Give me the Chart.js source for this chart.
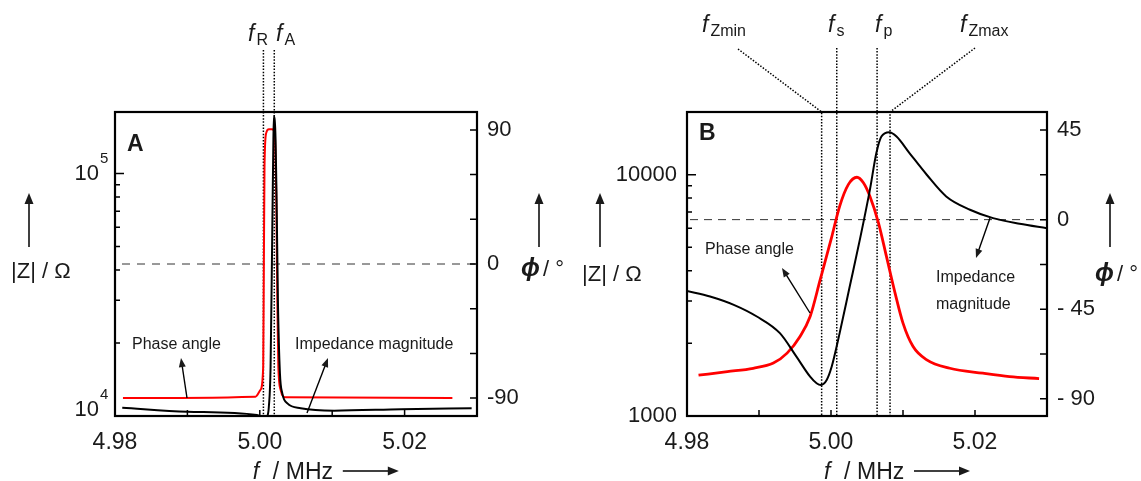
<!DOCTYPE html>
<html>
<head>
<meta charset="utf-8">
<script src="https://cdn.jsdelivr.net/npm/chart.js@4.4.1/dist/chart.umd.min.js"></script>
<style>
  html, body { margin: 0; padding: 0; background: #fff; }
  #wrap { position: relative; width: 1141px; height: 481px; overflow: hidden; }
  #chartA { position: absolute; left: 0; top: 0; }
  #chartB { position: absolute; left: 580px; top: 0; }
</style>
</head>
<body>
<div id="wrap">
  <canvas id="chartA" width="580" height="481"></canvas>
  <canvas id="chartB" width="561" height="481"></canvas>
</div>
<script>
// ---- panel A : wide sweep ----
const freqA_Z = [4.9810, 4.9900, 4.9996, 5.0004, 5.0008, 5.0010, 5.00125, 5.00149, 5.00172, 5.00186, 5.00194,
  5.00218, 5.00232, 5.00250, 5.00278, 5.00311, 5.00381, 5.00565, 5.01028, 5.01954, 5.02926];
const magA = [10820, 10420, 10100, 9800, 9700, 9900, 10920, 16000, 56900, 125600, 172600,
  138000, 78200, 30100, 15000, 12400, 11270, 10770, 10520, 10670, 10770];

const freqA_P = [4.9811, 4.9994, 5.00009, 5.00047, 5.00056, 5.00065, 5.00089, 5.00125, 5.00172, 5.00204,
  5.00228, 5.00242, 5.00256, 5.00288, 5.00357, 5.0266];
const phaseA = [-90, -89, -84.5, -69, -1.6, 65.6, 88, 90.5, 90.5, 88, 43, -24, -69, -84.5, -89.5, -90];

const markerFreqA = [5.0005, 5.0020];
const markerSubA = ['R', 'A'];

// ---- panel B : zoomed sweep ----
const freqB_Z = [4.9800, 4.9832, 4.9865, 4.9897, 4.9929, 4.9952, 4.9971, 4.9980, 4.9986, 4.9994, 5.0001,
  5.0012, 5.0026, 5.0040, 5.0054, 5.0063, 5.0070, 5.0081, 5.0091, 5.0109, 5.0133, 5.0160, 5.0193,
  5.0225, 5.0262, 5.0300];
const magB = [3300, 3130, 2890, 2585, 2205, 1762, 1456, 1367, 1345, 1410, 1603,
  2205, 3440, 5370, 8660, 12300, 14400, 15000, 14400, 12300, 10000, 8130, 7160,
  6610, 6260, 6000];

const freqB_P = [4.9816, 4.9856, 4.9892, 4.9920, 4.9939, 4.9957, 4.9971, 4.9985, 5.0000, 5.0012, 5.0024,
  5.0036, 5.0045, 5.0054, 5.0066, 5.0077, 5.0089, 5.0100, 5.0114, 5.0133, 5.0165, 5.0211, 5.0248, 5.0289];
const phaseB = [-78.2, -76.4, -74.7, -72.1, -67.1, -58.7, -48.7, -30.2, -10.1, 6.7, 17.6,
  21.3, 18.5, 11.7, -1.7, -18.5, -36.9, -52.0, -63.8, -70.5, -74.7, -77.2, -78.9, -79.9];

const markerFreqB = [4.9987, 5.0008, 5.0064, 5.0082];
const markerSubB = ['Zmin', 's', 'p', 'Zmax'];

// ---- ticks ----
const xTickValues = [4.98, 4.99, 5.00, 5.01, 5.02, 5.03];
const xTickLabels = ['4.98', '5.00', '5.02'];
const zTicksA = [10000, 20000, 30000, 40000, 50000, 60000, 70000, 80000, 90000, 100000];
const zLabelsA = [10000, 100000];
const zTicksB = [1000, 2000, 3000, 4000, 5000, 6000, 7000, 8000, 9000, 10000];
const zLabelsB = [1000, 10000];
const phaseTicksA = [-90, -60, -30, 0, 30, 60, 90];
const phaseLabelsA = [-90, 0, 90];
const phaseTicksB = [-90, -67.5, -45, -22.5, 0, 22.5, 45];
const phaseLabelsB = [-90, -45, 0, 45];

const FONT = '"Liberation Sans", Arial, Helvetica, sans-serif';
const INK = '#1a1a1a';

function arrow(ctx, x1, y1, x2, y2, len, half) {
  const a = Math.atan2(y2 - y1, x2 - x1);
  const c = Math.cos(a), s = Math.sin(a);
  ctx.beginPath();
  ctx.moveTo(x1, y1);
  ctx.lineTo(x2 - c * len * 0.7, y2 - s * len * 0.7);
  ctx.stroke();
  ctx.beginPath();
  ctx.moveTo(x2, y2);
  ctx.lineTo(x2 - c * len + s * half, y2 - s * len - c * half);
  ctx.lineTo(x2 - c * len - s * half, y2 - s * len + c * half);
  ctx.closePath();
  ctx.fill();
}

function fLabel(ctx, x, y, sub, size, subSize, drop) {
  ctx.font = 'italic ' + size + 'px ' + FONT;
  ctx.textAlign = 'left';
  ctx.textBaseline = 'alphabetic';
  ctx.fillText('f', x, y);
  const w = ctx.measureText('f').width;
  ctx.font = subSize + 'px ' + FONT;
  ctx.fillText(sub, x + w + 2, y + drop);
}

function makeDecor(p) {
  return {
    id: 'decor' + p.name,
    beforeDatasetsDraw(chart) {
      const { ctx, chartArea: a, scales } = chart;
      const ox = p.ox;
      ctx.save();
      const y0 = scales.yPh.getPixelForValue(0);
      ctx.strokeStyle = '#333';
      ctx.lineWidth = 1;
      ctx.setLineDash(p.dash);
      ctx.beginPath();
      ctx.moveTo(p.dashFrom - ox, y0);
      ctx.lineTo(a.right, y0);
      ctx.stroke();

      // dotted marker lines
      ctx.setLineDash([1.5, 1.6]);
      ctx.strokeStyle = '#000';
      ctx.lineWidth = 1.5;
      p.markers.forEach((m, i) => {
        const px = scales.x.getPixelForValue(p.markerFreq[i]);
        ctx.beginPath();
        if (m.from) {
          ctx.moveTo(m.from[0] - ox, m.from[1]);
          ctx.lineTo(px, a.top);
        } else {
          ctx.moveTo(px, m.top);
        }
        ctx.lineTo(px, a.bottom);
        ctx.stroke();
      });
      ctx.restore();
    },
    afterDatasetsDraw(chart) {
      const { ctx, chartArea: a, scales } = chart;
      ctx.save();
      ctx.strokeStyle = '#000';
      ctx.lineWidth = 1.5;
      ctx.beginPath();
      xTickValues.forEach(v => {
        const px = scales.x.getPixelForValue(v);
        if (px <= a.left + 2 || px >= a.right - 2) return;
        ctx.moveTo(px, a.bottom);
        ctx.lineTo(px, a.bottom - 6);
      });
      p.zTicks.forEach(v => {
        const py = scales.yZ.getPixelForValue(v);
        if (py <= a.top + 2 || py >= a.bottom - 2) return;
        const len = p.zLabels.includes(v) ? 9 : 5;
        ctx.moveTo(a.left, py);
        ctx.lineTo(a.left + len, py);
      });
      p.phTicks.forEach(v => {
        const py = scales.yPh.getPixelForValue(v);
        if (py <= a.top + 2 || py >= a.bottom - 2) return;
        ctx.moveTo(a.right, py);
        ctx.lineTo(a.right - 7, py);
      });
      ctx.stroke();
      ctx.lineWidth = 2.2;
      ctx.strokeRect(a.left, a.top, a.right - a.left, a.bottom - a.top);
      ctx.restore();
    },
    afterDraw(chart) {
      const { ctx, chartArea: a, scales } = chart;
      const ox = p.ox;
      ctx.save();
      ctx.fillStyle = INK;
      ctx.strokeStyle = '#000';

      // panel letter
      ctx.font = 'bold 23px ' + FONT;
      ctx.textAlign = 'left';
      ctx.textBaseline = 'alphabetic';
      ctx.fillText(p.name, p.letter[0] - ox, p.letter[1]);

      // marker labels
      p.markers.forEach((m, i) => {
        fLabel(ctx, m.lx - ox, p.labelBase, p.markerSub[i], 23, 16, 4);
      });

      // superscript log labels (panel A)
      if (p.supLabels) {
        zLabelsA.forEach(v => {
          const py = scales.yZ.getPixelForValue(v);
          const base = Math.min(py + 6, a.bottom);
          ctx.font = '22px ' + FONT;
          ctx.textAlign = 'right';
          ctx.fillText('10', a.left - 16, base);
          ctx.font = '15px ' + FONT;
          ctx.textAlign = 'left';
          ctx.fillText(String(Math.round(Math.log10(v))), a.left - 15, base - 17);
        });
      }

      // x title
      const fx = scales.x.getPixelForValue(5.0) - 7;
      ctx.textAlign = 'left';
      ctx.font = 'italic 23px ' + FONT;
      ctx.fillText('f', fx, 479);
      ctx.font = '23px ' + FONT;
      ctx.fillText('/', fx + 20, 479);
      ctx.fillText('MHz', fx + 33, 479);
      ctx.lineWidth = 1.5;
      arrow(ctx, fx + 90, 471, fx + 146, 471, 11, 4.5);

      // |Z| title
      ctx.font = '22px ' + FONT;
      ctx.fillText('|Z| / \u03A9', p.zTitle[0] - ox, p.zTitle[1]);
      arrow(ctx, p.zArrowX - ox, 247, p.zArrowX - ox, 193, 11, 4.5);

      // phase title
      ctx.font = 'italic bold 25px ' + FONT;
      ctx.fillText('\u03D5', p.phTitle[0] - ox, p.phTitle[1]);
      ctx.font = '22px ' + FONT;
      ctx.fillText('/ \u00B0', p.phTitle[0] - ox + 22, p.phTitle[1]);
      arrow(ctx, p.phArrowX - ox, 247, p.phArrowX - ox, 193, 11, 4.5);

      // curve notes
      ctx.font = '16px ' + FONT;
      p.notes.forEach(n => ctx.fillText(n.t, n.x - ox, n.y));
      ctx.lineWidth = 1.4;
      p.arrows.forEach(r => arrow(ctx, r[0] - ox, r[1], r[2] - ox, r[3], 9, 3.5));
      ctx.restore();
    }
  };
}

function buildChart(id, p) {
  const xFont = { family: FONT, size: 23 };
  const yFont = { family: FONT, size: 22 };
  return new Chart(document.getElementById(id), {
    type: 'line',
    data: {
      datasets: [
        {
          data: p.zF.map((f, i) => ({ x: f, y: p.z[i] })),
          yAxisID: 'yZ', borderColor: '#000', borderWidth: 2, order: 0
        },
        {
          data: p.pF.map((f, i) => ({ x: f, y: p.ph[i] })),
          yAxisID: 'yPh', borderColor: '#ff0000', borderWidth: p.redWidth, order: 1
        }
      ]
    },
    options: {
      responsive: false,
      animation: false,
      devicePixelRatio: 1,
      layout: { padding: { top: 112, left: 0, right: 0, bottom: 0 } },
      elements: { point: { radius: 0 }, line: { cubicInterpolationMode: 'monotone', fill: false } },
      plugins: { legend: { display: false }, tooltip: { enabled: false } },
      scales: {
        x: {
          type: 'linear', min: 4.98, max: 5.03, bounds: 'data',
          afterBuildTicks: s => { s.ticks = xTickValues.map(v => ({ value: v })); },
          afterFit: s => { s.height = 65; },
          grid: { display: false, drawTicks: false }, border: { display: false },
          ticks: {
            autoSkip: false, maxRotation: 0, padding: 13, color: INK, font: xFont,
            callback: v => { const t = Number(v).toFixed(2); return xTickLabels.includes(t) ? t : ''; }
          }
        },
        yZ: {
          type: 'logarithmic', position: 'left', min: p.zMin, max: p.zMax, bounds: 'data',
          afterBuildTicks: s => { s.ticks = p.zTicks.map(v => ({ value: v })); },
          afterFit: s => { s.width = p.leftW; },
          grid: { display: false, drawTicks: false }, border: { display: false },
          ticks: {
            display: !p.supLabels, autoSkip: false, padding: 10, color: INK, font: yFont,
            callback: v => p.zLabels.includes(v) ? String(v) : ''
          }
        },
        yPh: {
          type: 'linear', position: 'right', min: p.phMin, max: p.phMax, bounds: 'data',
          afterBuildTicks: s => { s.ticks = p.phTicks.map(v => ({ value: v })); },
          afterFit: s => { s.width = p.rightW; },
          grid: { display: false, drawTicks: false }, border: { display: false },
          ticks: {
            autoSkip: false, padding: 10, color: INK, font: yFont,
            callback: v => p.phLabels.includes(v) ? (v < 0 ? p.neg + Math.abs(v) : String(v)) : ''
          }
        }
      }
    },
    plugins: [makeDecor(p)]
  });
}

buildChart('chartA', {
  name: 'A', ox: 0,
  zF: freqA_Z, z: magA, pF: freqA_P, ph: phaseA, redWidth: 2,
  zMin: 10000, zMax: 179500, zTicks: zTicksA, zLabels: zLabelsA, supLabels: true,
  phMin: -102, phMax: 102, phTicks: phaseTicksA, phLabels: phaseLabelsA, neg: '-',
  leftW: 115, rightW: 103,
  dash: [8, 7], dashFrom: 122,
  markerFreq: markerFreqA, markerSub: markerSubA,
  markers: [{ top: 50, lx: 248 }, { top: 50, lx: 276 }],
  labelBase: 41,
  letter: [127, 151],
  zTitle: [11, 278], zArrowX: 29,
  phTitle: [521, 276], phArrowX: 539,
  notes: [{ t: 'Phase angle', x: 132, y: 349 }, { t: 'Impedance magnitude', x: 295, y: 349 }],
  arrows: [[187, 398, 181, 358], [307, 413, 328, 358]]
});

buildChart('chartB', {
  name: 'B', ox: 580,
  zF: freqB_Z, z: magB, pF: freqB_P, ph: phaseB, redWidth: 2.8,
  zMin: 1000, zMax: 18200, zTicks: zTicksB, zLabels: zLabelsB, supLabels: false,
  phMin: -98.7, phMax: 54.1, phTicks: phaseTicksB, phLabels: phaseLabelsB, neg: '- ',
  leftW: 107, rightW: 94,
  dash: [8, 6], dashFrom: 690,
  markerFreq: markerFreqB, markerSub: markerSubB,
  markers: [{ from: [738, 49], lx: 702 }, { top: 48, lx: 828 }, { top: 48, lx: 875 }, { from: [975, 48], lx: 960 }],
  labelBase: 32,
  letter: [699, 140],
  zTitle: [582, 281], zArrowX: 600,
  phTitle: [1095, 281], phArrowX: 1110,
  notes: [{ t: 'Phase angle', x: 705, y: 254 }, { t: 'Impedance', x: 936, y: 282 }, { t: 'magnitude', x: 936, y: 309 }],
  arrows: [[810, 313, 782, 268], [990, 218, 976, 258]]
});
</script>
</body>
</html>
